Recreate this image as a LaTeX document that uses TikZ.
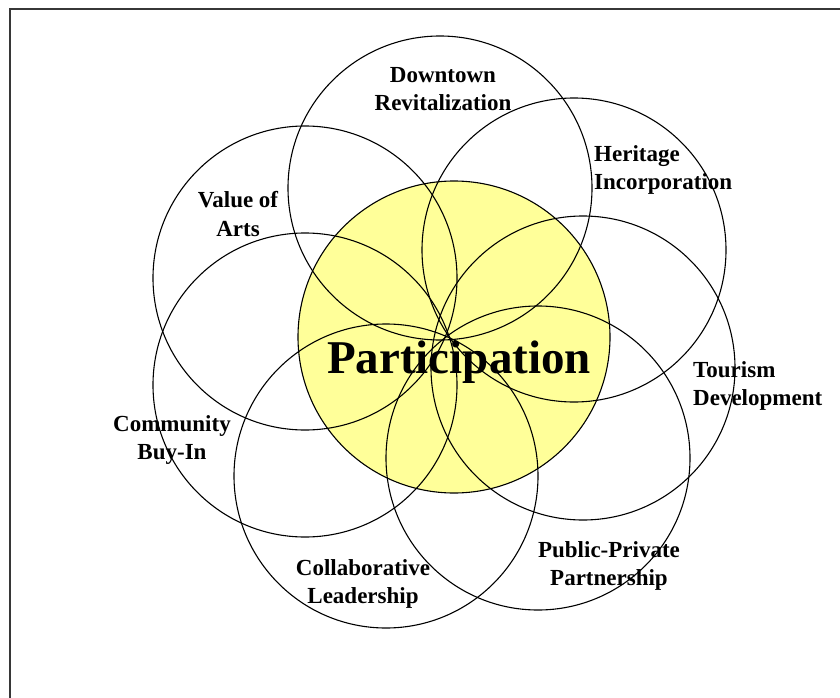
\documentclass[tikz,border=0pt]{standalone}
\usepackage{fontspec}
\setmainfont{Liberation Serif}
\usepackage{xcolor}
\usepackage{tikz}

\definecolor{corefill}{RGB}{255,255,153}
\definecolor{framegray}{RGB}{55,55,55}

\begin{document}
\begin{tikzpicture}[
  x=1pt, y=-1pt,
  ring/.style={draw, circle, line width=1.1pt, minimum size=304pt, inner sep=0pt},
  topic/.style={font=\fontsize{23}{28.5}\selectfont\bfseries, align=center, inner sep=0pt}
]
  \useasboundingbox (0,0) rectangle (840,698);
  \draw[framegray, line width=2pt] (10,698) -- (10,9) -- (840,9);

  % centre disc first, the seven rings go over it
  \node[ring, fill=corefill, minimum size=312pt] (core) at (454,337) {};
  \node[ring] (downtown) at (440,188) {};
  \node[ring] (heritage) at (574,250) {};
  \node[ring] (tourism) at (583,368) {};
  \node[ring] (ppp) at (538,458) {};
  \node[ring] (collab) at (386,476) {};
  \node[ring] (community) at (305,385) {};
  \node[ring] (arts) at (305,278) {};

  \node[font=\fontsize{47}{50}\selectfont\bfseries, inner sep=0pt] (part) at (459,362) {Participation};

  \node[topic] (downtownlbl) at (443,89) {Downtown\\Revitalization};
  \node[topic, align=left, anchor=west] (heritagelbl) at (594,170) {Heritage\\Incorporation};
  \node[topic, align=left, anchor=west] (tourismlbl) at (693,386) {Tourism\\Development};
  \node[topic] (ppplbl) at (609,566) {Public-Private\\Partnership};
  \node[topic] (collablbl) at (363,584) {Collaborative\\Leadership};
  \node[topic] (communitylbl) at (172,440) {Community\\Buy-In};
  \node[topic] (artslbl) at (238,214) {Value of\\Arts};
\end{tikzpicture}
\end{document}
